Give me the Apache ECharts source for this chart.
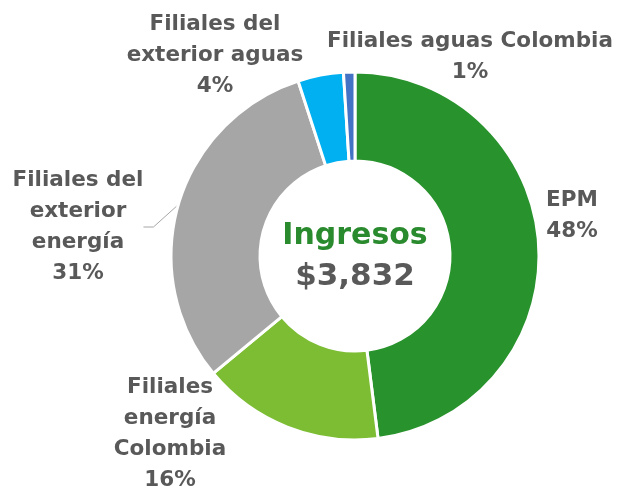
<!DOCTYPE html>
<html>
<head>
<meta charset="utf-8">
<script src="https://cdn.jsdelivr.net/npm/echarts@6/dist/echarts.min.js"></script>
<style>
  html, body { margin: 0; padding: 0; background: #fff; }
  #chart { width: 619px; height: 493px; }
</style>
</head>
<body>
<div id="chart"></div>
<script>
// participación de ingresos por segmento (%)
const names = ['EPM', 'Filiales energía Colombia', 'Filiales del exterior energía', 'Filiales del exterior aguas', 'Filiales aguas Colombia']
const labelText = ['EPM', 'Filiales\nenergía\nColombia', 'Filiales del\nexterior\nenergía', 'Filiales del\nexterior aguas', 'Filiales aguas Colombia']
const values = [48, 16, 31, 4, 1]
const colors = ['#28922c', '#7cbd34', '#a6a6a6', '#00b0f0', '#4472c4']
const totalText = '$3,832'

// dónde va cada etiqueta (centro del bloque de texto)
const labelPos = [[572, 216], [170, 434], [78, 227], [215, 55], [470, 57]]

const chart = echarts.init(document.getElementById('chart'))
chart.setOption({
  animation: false,
  graphic: [
    { type: 'text', x: 355, y: 236, z: 100, style: { text: 'Ingresos', fill: '#2a8a2e', font: 'bold 30px "DejaVu Sans"', textAlign: 'center', textVerticalAlign: 'middle' } },
    { type: 'text', x: 355, y: 277, z: 100, style: { text: totalText, fill: '#595959', font: 'bold 31px "DejaVu Sans"', textAlign: 'center', textVerticalAlign: 'middle' } }
  ],
  series: [{
    type: 'pie',
    center: [355, 256],
    radius: [95, 184],
    startAngle: 90,
    clockwise: true,
    itemStyle: { borderColor: '#fff', borderWidth: 3 },
    label: {
      show: true,
      position: 'outside',
      formatter: p => labelText[p.dataIndex] + '\n' + p.value + '%',
      color: '#595959',
      fontFamily: 'DejaVu Sans',
      fontWeight: 'bold',
      fontSize: 21.5,
      lineHeight: 31,
      align: 'center',
      overflow: 'none'
    },
    labelLine: { show: false },
    labelLayout: p => ({
      x: labelPos[p.dataIndex][0],
      y: labelPos[p.dataIndex][1],
      align: 'center',
      verticalAlign: 'middle'
    }),
    data: names.map((n, i) => ({
      name: n,
      value: values[i],
      itemStyle: { color: colors[i] },
      labelLine: i === 2 ? { show: true, length: 4, length2: 10, lineStyle: { color: '#a6a6a6', width: 1 } } : { show: false }
    }))
  }]
})
</script>
</body>
</html>
